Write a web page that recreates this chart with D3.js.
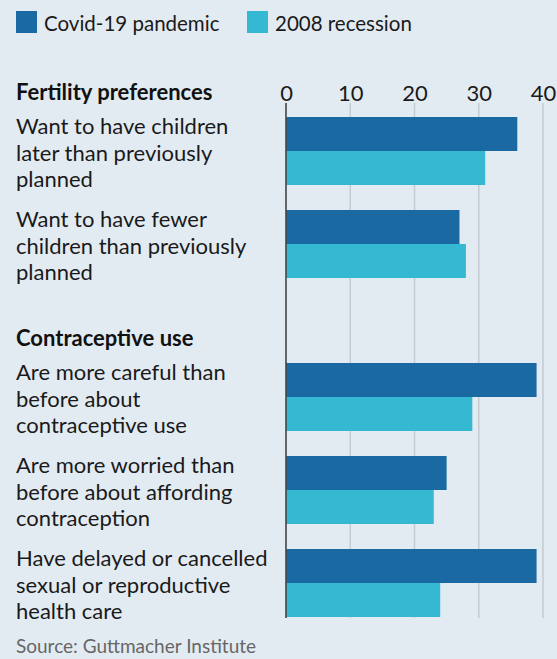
<!DOCTYPE html>
<html>
<head>
<meta charset="utf-8">
<script src="https://cdn.jsdelivr.net/npm/d3@7"></script>
<style>
html,body{margin:0;padding:0;background:#e3ebf2;}
svg{display:block;}
text{font-family:Lato,"Open Sans",sans-serif;}
</style>
</head>
<body>
<svg id="chart" width="557" height="659"></svg>
<script>
const sections = ["Fertility preferences", "Contraceptive use"];
const categories = [
  "Want to have children later than previously planned",
  "Want to have fewer children than previously planned",
  "Are more careful than before about contraceptive use",
  "Are more worried than before about affording contraception",
  "Have delayed or cancelled sexual or reproductive health care"
];
const categoryLines = [
  ["Want to have children", "later than previously", "planned"],
  ["Want to have fewer", "children than previously", "planned"],
  ["Are more careful than", "before about", "contraceptive use"],
  ["Are more worried than", "before about affording", "contraception"],
  ["Have delayed or cancelled", "sexual or reproductive", "health care"]
];
const categorySection = [0, 0, 1, 1, 1];
const seriesNames = ["Covid-19 pandemic", "2008 recession"];
const covid = [36, 27, 39, 25, 39];
const recession = [31, 28, 29, 23, 24];
const ticks = [0, 10, 20, 30, 40];
const source = "Source: Guttmacher Institute";

const colors = ["#1a69a2", "#35b8d2"];
const svg = d3.select("#chart");
const fs = 22;

const x = d3.scaleLinear().domain([0, 40]).range([286, 543]);
const sectionGap = 60;
const step = 93, band = 68;
const y = d3.scaleBand().domain(categories)
  .range([117, 117 + step * 4 + band])
  .paddingInner((step - band) / step).paddingOuter(0).align(0);
function rowTop(i){ return y(categories[i]) + categorySection[i] * sectionGap; }
const bh = y.bandwidth() / 2;

// gridlines
const gridTop = 103, gridBottom = 618;
svg.append("g").selectAll("line").data(ticks.slice(1)).join("line")
  .attr("x1", d => x(d)).attr("x2", d => x(d))
  .attr("y1", gridTop).attr("y2", gridBottom)
  .attr("stroke", "#c3cad2").attr("stroke-width", 1.5);

// tick labels via axis
const axis = svg.append("g").attr("transform", "translate(0,101)")
  .call(d3.axisTop(x).tickValues(ticks).tickSize(0).tickPadding(0));
axis.select(".domain").remove();
axis.selectAll("text").attr("font-size", fs).attr("fill", "#1a1a1a")
  .attr("font-family", "Lato, 'Open Sans', sans-serif").attr("dy", 0);

// bars
const rows = categories.map((c, i) => ({c, i, vals: [covid[i], recession[i]]}));
const g = svg.append("g");
rows.forEach(r => {
  g.selectAll(null).data(r.vals).join("rect")
    .attr("x", x(0))
    .attr("y", (d, k) => rowTop(r.i) + k * bh)
    .attr("width", d => x(d) - x(0))
    .attr("height", bh)
    .attr("fill", (d, k) => colors[k]);
});

// zero line
svg.append("line").attr("x1", x(0)).attr("x2", x(0))
  .attr("y1", gridTop).attr("y2", gridBottom)
  .attr("stroke", "#444").attr("stroke-width", 1.6);

// category labels
rows.forEach(r => {
  const t = svg.append("text").attr("x", 16).attr("y", rowTop(r.i) + 17)
    .attr("font-size", fs).attr("fill", "#1a1a1a");
  categoryLines[r.i].forEach((ln, j) => {
    t.append("tspan").attr("x", 16).attr("dy", j === 0 ? 0 : 26.7).text(ln);
  });
});

// section headers
sections.forEach((s, si) => {
  const first = categorySection.indexOf(si);
  svg.append("text").attr("x", 16).attr("y", rowTop(first) - 17)
    .attr("font-size", fs).attr("font-weight", "bold").attr("fill", "#111").text(s);
});

// legend
const leg = svg.append("g");
const legX = [16, 247];
seriesNames.forEach((n, k) => {
  leg.append("rect").attr("x", legX[k]).attr("y", 11).attr("width", 21).attr("height", 22).attr("fill", colors[k]);
  leg.append("text").attr("x", legX[k] + 28).attr("y", 31).attr("font-size", 20.5).attr("fill", "#1a1a1a").text(n);
});

// source
svg.append("text").attr("x", 16).attr("y", 653).attr("font-size", 19).attr("fill", "#666").text(source);
</script>
</body>
</html>
